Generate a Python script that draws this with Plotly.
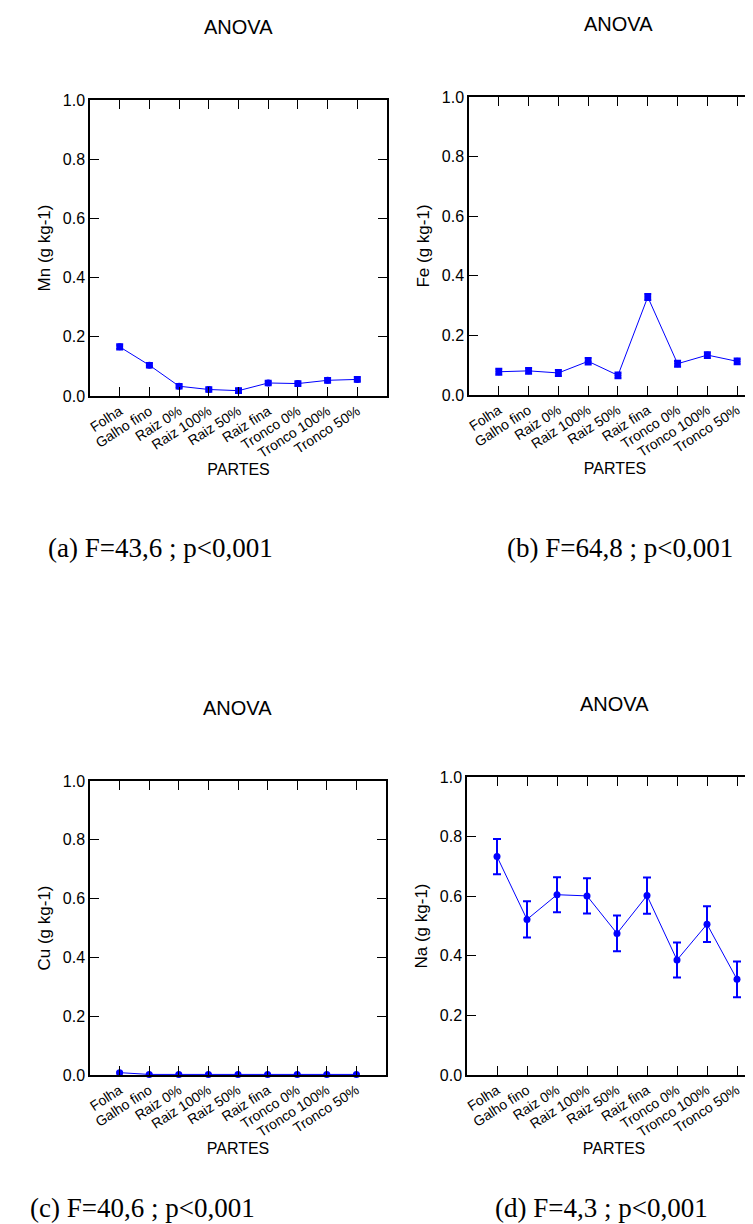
import plotly.graph_objects as go

# ---------------- data ----------------
categories = ["Folha", "Galho fino", "Raiz 0%", "Raiz 100%", "Raiz 50%",
              "Raiz fina", "Tronco 0%", "Tronco 100%", "Tronco 50%"]

mn = [0.166, 0.104, 0.033, 0.022, 0.018, 0.044, 0.042, 0.053, 0.056]
mn_err = [0.008, 0.007, 0.007, 0.007, 0.007, 0.007, 0.007, 0.007, 0.007]

fe = [0.078, 0.081, 0.074, 0.113, 0.066, 0.329, 0.105, 0.134, 0.113]
fe_err = [0.009, 0.009, 0.009, 0.010, 0.009, 0.009, 0.009, 0.009, 0.009]

cu = [0.008, 0.002, 0.002, 0.002, 0.002, 0.002, 0.002, 0.002, 0.002]
cu_err = [0.003, 0.001, 0.001, 0.001, 0.001, 0.001, 0.001, 0.001, 0.001]

na = [0.733, 0.522, 0.605, 0.601, 0.475, 0.602, 0.386, 0.506, 0.321]
na_err = [0.059, 0.061, 0.059, 0.059, 0.060, 0.061, 0.059, 0.060, 0.060]

y_titles = ["Mn (g kg-1)", "Fe (g kg-1)", "Cu (g kg-1)", "Na (g kg-1)"]
captions = ["(a) F=43,6 ; p<0,001", "(b) F=64,8 ; p<0,001",
            "(c) F=40,6 ; p<0,001", "(d) F=4,3 ; p<0,001"]
panel_title = "ANOVA"
x_title = "PARTES"

# ---------------- layout geometry (pixels) ----------------
W, H = 753, 1224
BLUE = "#0000FF"
SANS = "Liberation Sans, Arial, sans-serif"
SERIF = "Liberation Serif, Times New Roman, serif"

# (left, right, top, bottom, xmax) in pixels
boxes = [
    (82, 379, 92, 388, 9.0),
    (461, 753, 89, 387, 8.8),
    (82, 378, 773, 1067, 9.0),
    (459, 753, 769, 1067, 8.8),
]
series = [(mn, mn_err, 3.5, 2.5), (fe, fe_err, 3.5, 2.5), (cu, cu_err, 3, 2), (na, na_err, 4, 2)]

fig = go.Figure()

for i, ((l, r, t, b, xmax), (vals, errs, capw, thick)) in enumerate(zip(boxes, series)):
    n = "" if i == 0 else str(i + 1)
    fig.add_trace(go.Scatter(
        x=categories, y=vals,
        xaxis="x" + n, yaxis="y" + n,
        mode="lines+markers",
        line=dict(color=BLUE, width=1),
        marker=dict(color=BLUE, size=7, symbol="circle"),
        error_y=dict(type="data", array=errs, visible=True,
                     color=BLUE, thickness=thick, width=capw),
        showlegend=False, cliponaxis=False,
    ))
    common = dict(showline=True, linecolor="black", linewidth=1.5,
                  mirror="ticks", ticks="inside", ticklen=9,
                  tickwidth=1.2, tickcolor="black", showgrid=False,
                  zeroline=False, automargin=False)
    fig.layout["xaxis" + n] = dict(
        domain=[l / W, r / W], anchor="y" + n,
        type="category", range=[-1, xmax],
        tickangle=-33, tickfont=dict(family=SANS, size=14, color="black"),
        title=dict(text=x_title, font=dict(family=SANS, size=16, color="black"),
                   standoff=2),
        **common)
    fig.layout["yaxis" + n] = dict(
        domain=[1 - b / H, 1 - t / H], anchor="x" + n,
        range=[0, 1], dtick=0.2, tickformat=".1f",
        tickfont=dict(family=SANS, size=16, color="black"),
        title=dict(text=y_titles[i], font=dict(family=SANS, size=17, color="black"),
                   standoff=8),
        **common)

annotations = []
# ANOVA titles
for (x, y) in [(230, 19), (610, 16), (229, 700), (606, 696)]:
    annotations.append(dict(text=panel_title, x=x / W, y=1 - y / H,
                            xref="paper", yref="paper", showarrow=False,
                            xanchor="center", yanchor="middle",
                            font=dict(family=SANS, size=20, color="black")))
# captions
for cap, (x, y) in zip(captions, [(38, 540), (497, 540), (20, 1200), (485, 1200)]):
    annotations.append(dict(text=cap, x=x / W, y=1 - y / H,
                            xref="paper", yref="paper", showarrow=False,
                            xanchor="left", yanchor="middle",
                            font=dict(family=SERIF, size=27, color="black")))

fig.update_layout(
    template="none",
    width=W, height=H,
    margin=dict(l=0, r=0, t=0, b=0),
    paper_bgcolor="white", plot_bgcolor="white",
    annotations=annotations,
)

fig.write_html("out.html")
